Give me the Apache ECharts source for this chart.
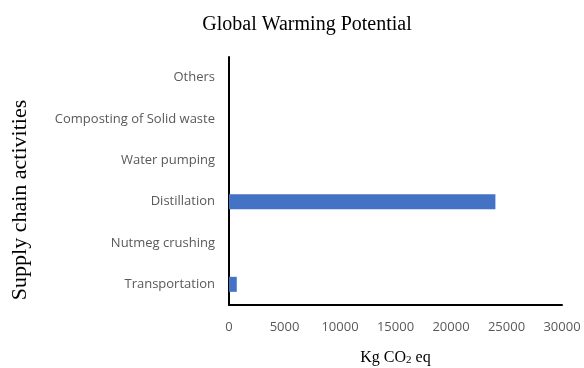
<!DOCTYPE html>
<html>
<head>
<meta charset="utf-8">
<script src="https://cdn.jsdelivr.net/npm/echarts@6/dist/echarts.min.js"></script>
<style>
  html, body { margin: 0; padding: 0; background: #fff; }
  #chart { width: 584px; height: 368px; }
</style>
</head>
<body>
<div id="chart"></div>
<script>
// Supply chain activities, bottom to top
const categories = ['Transportation', 'Nutmeg crushing', 'Distillation', 'Water pumping', 'Composting of Solid waste', 'Others'];
// Global warming potential in kg CO2 eq
const gwpValues = [700, 0, 24000, 0, 0, 0];
const xTicks = [0, 5000, 10000, 15000, 20000, 25000, 30000];

const labelFont = '"Open Sans", sans-serif';
const serifFont = '"Liberation Serif", "DejaVu Serif", serif';

const chart = echarts.init(document.getElementById('chart'));
chart.setOption({
  animation: false,
  title: {
    text: 'Global Warming Potential',
    left: 302, top: 10, textAlign: 'center',
    textStyle: { fontFamily: serifFont, fontWeight: 'normal', fontSize: 20, color: '#000' }
  },
  // vertical axis title, set lower than the plot centre
  graphic: [{
    type: 'text',
    x: 20, y: 200,
    rotation: Math.PI / 2,
    style: {
      text: 'Supply chain activities',
      fontFamily: serifFont, fontSize: 22, fill: '#000',
      align: 'center', verticalAlign: 'middle'
    }
  }],
  grid: { left: 229, right: 22, top: 57, bottom: 63, outerBoundsMode: 'none' },
  xAxis: {
    type: 'value',
    min: xTicks[0], max: xTicks[xTicks.length - 1], interval: 5000,
    name: '{a|Kg CO}{s|2}{a| eq}',
    nameLocation: 'middle', nameGap: 44,
    nameTextStyle: {
      rich: {
        a: { fontFamily: serifFont, fontSize: 16, color: '#000' },
        s: { fontFamily: serifFont, fontSize: 11, color: '#000', verticalAlign: 'bottom', padding: [6, 0, 0, 0] }
      }
    },
    axisLine: { show: true, lineStyle: { color: '#000', width: 2 } },
    axisTick: { show: false },
    splitLine: { show: false },
    axisLabel: {
      margin: 16, fontFamily: labelFont, fontSize: 13, color: '#595959',
      formatter: v => String(v)
    }
  },
  yAxis: {
    type: 'category',
    data: categories,
    axisLine: { show: true, lineStyle: { color: '#000', width: 2 } },
    axisTick: { show: false },
    axisLabel: { margin: 14, fontFamily: labelFont, fontSize: 13, color: '#595959' }
  },
  series: [{
    type: 'bar',
    data: gwpValues,
    barWidth: 15,
    itemStyle: { color: '#4472C4' }
  }]
});
</script>
</body>
</html>
